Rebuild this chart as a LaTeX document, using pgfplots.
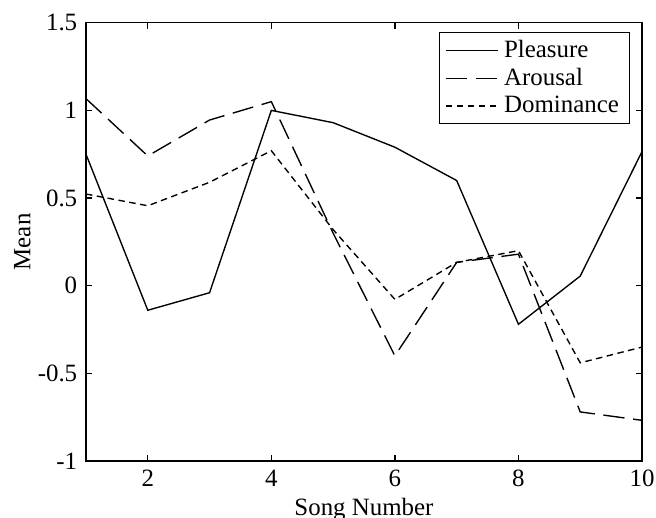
\documentclass[border=0pt]{standalone}
\usepackage{fontspec}
\setmainfont{Liberation Serif}
\usepackage{pgfplots}
\pgfplotsset{compat=1.18}

\begin{document}
\fontsize{10}{12}\selectfont
\begin{tikzpicture}
\begin{axis}[
    name=main,
    scale only axis,
    width=222.4bp,
    height=175.3bp,
    xmin=1, xmax=10,
    ymin=-1, ymax=1.5,
    xtick={2,4,6,8,10},
    ytick={-1,-0.5,0,0.5,1,1.5},
    yticklabels={-1,-0.5,0,0.5,1,1.5},
    xlabel={Song Number},
    ylabel={Mean},
    xlabel style={yshift=2.3bp},
    ylabel style={yshift=-4bp},
    tick align=inside,
    major tick length=2.4bp,
    axis line style={black, line width=0.5pt},
    tick style={black, line width=0.5pt},
    /pgf/number format/assume math mode=true,
    ticklabel style={font=\fontsize{10}{12}\selectfont},
    label style={font=\fontsize{10}{12}\selectfont},
    legend style={draw=black, line width=0.5pt, font=\fontsize{10}{12}\selectfont,
        at={(1,1)}, anchor=north east, xshift=-4.8bp, yshift=-3.6bp,
        inner xsep=2.2bp, inner ysep=1pt, row sep=-1.2bp},
    legend cell align=left,
    legend image code/.code={\draw[#1] (0cm,0cm) -- (21bp,0cm);},
    every axis plot/.append style={black, line width=0.55pt},
]

\addplot[solid] coordinates {
    (1, 0.75) (2, -0.14) (3, -0.04) (4, 1.00) (5, 0.93)
    (6, 0.79) (7, 0.60) (8, -0.22) (9, 0.055) (10, 0.765)
};
\addlegendentry{Pleasure}

\addplot[dash pattern=on 8.5bp off 3.5bp] coordinates {
    (1, 1.067) (2, 0.74) (3, 0.945) (4, 1.05) (5, 0.30)
    (6, -0.40) (7, 0.133) (8, 0.18) (9, -0.72) (10, -0.768)
};
\addlegendentry{Arousal}

\addplot[dash pattern=on 2.6bp off 1.8bp] coordinates {
    (1, 0.523) (2, 0.456) (3, 0.59) (4, 0.77) (5, 0.32)
    (6, -0.078) (7, 0.133) (8, 0.20) (9, -0.44) (10, -0.35)
};
\addlegendentry{Dominance}

\coordinate (sw) at (rel axis cs:0,0);
\coordinate (ne) at (rel axis cs:1,1);
\end{axis}
\pgfresetboundingbox
\useasboundingbox ([xshift=-34.4bp,yshift=-22.4bp]sw) rectangle ([xshift=5.6bp,yshift=9.1bp]ne);
\end{tikzpicture}
\end{document}
